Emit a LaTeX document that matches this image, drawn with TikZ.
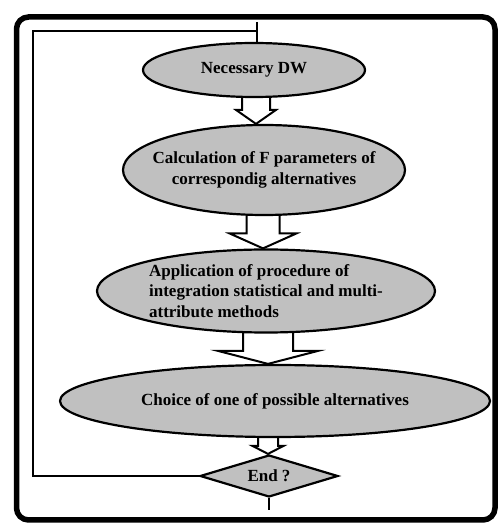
\documentclass[tikz,border=0pt]{standalone}
\usepackage{fontspec}
\setmainfont{Liberation Serif}
\usetikzlibrary{shapes.geometric,calc,backgrounds}
\definecolor{stepgray}{HTML}{C0C0C0}
\begin{document}
\begin{tikzpicture}[x=1pt,y=1pt,
  every node/.style={font=\bfseries\fontsize{17}{20.5}\selectfont},
  oval/.style={ellipse,draw,line width=2.2pt,fill=stepgray,inner xsep=-30pt,inner ysep=-10pt,align=center},
  decide/.style={diamond,draw,line width=2.2pt,fill=stepgray,aspect=3.3,inner sep=0pt},
  fatarrow/.style={draw,line width=2pt,fill=white,line join=miter},
  flow/.style={line width=2pt}]
\useasboundingbox (0,0) rectangle (498,523);
\draw[line width=5.5pt,rounded corners=12pt] (16.5,3) rectangle (495,506);
\node[oval,minimum width=222pt,minimum height=54pt] (dw) at (254,453) {Necessary DW};
\node[oval,minimum width=282pt,minimum height=90pt] (calc) at (264,353) {Calculation of F parameters of\\ correspondig alternatives};
\node[oval,align=left,minimum width=338pt,minimum height=83pt] (appl) at (266,232) {Application of procedure of\\ integration statistical and multi-\\ attribute methods};
\node[oval,minimum width=430pt,minimum height=72pt] (choice) at (275,122) {Choice of one of possible alternatives};
\node[decide,minimum width=138pt,minimum height=42pt] (endq) at (269,47) {End ?};
\begin{scope}[on background layer]
\foreach \a/\b/\c/\s/\h/\l in {dw/calc/256/14/20/14,calc/appl/263/16.5/33.5/15,appl/choice/268/25/50/13,choice/endq/268/10/15.5/8}
  \draw[fatarrow] let \p1=(\a.south),\p2=(\b.north) in
    ({\c-\s},{\y1+4}) -- ({\c-\s},{\y2+\l}) -- ({\c-\h},{\y2+\l}) -- (\c,\y2)
    -- ({\c+\h},{\y2+\l}) -- ({\c+\s},{\y2+\l}) -- ({\c+\s},{\y1+4});
\end{scope}
\coordinate (entry) at (257,501);
\coordinate (loop) at (33,492);
\coordinate (exit) at (269,13);
\draw[flow] (entry) -- (entry |- dw.north);
\draw[flow] (endq.west) -| (loop) -- (loop -| entry);
\draw[flow] (endq.south) -- (exit);
\end{tikzpicture}
\end{document}
